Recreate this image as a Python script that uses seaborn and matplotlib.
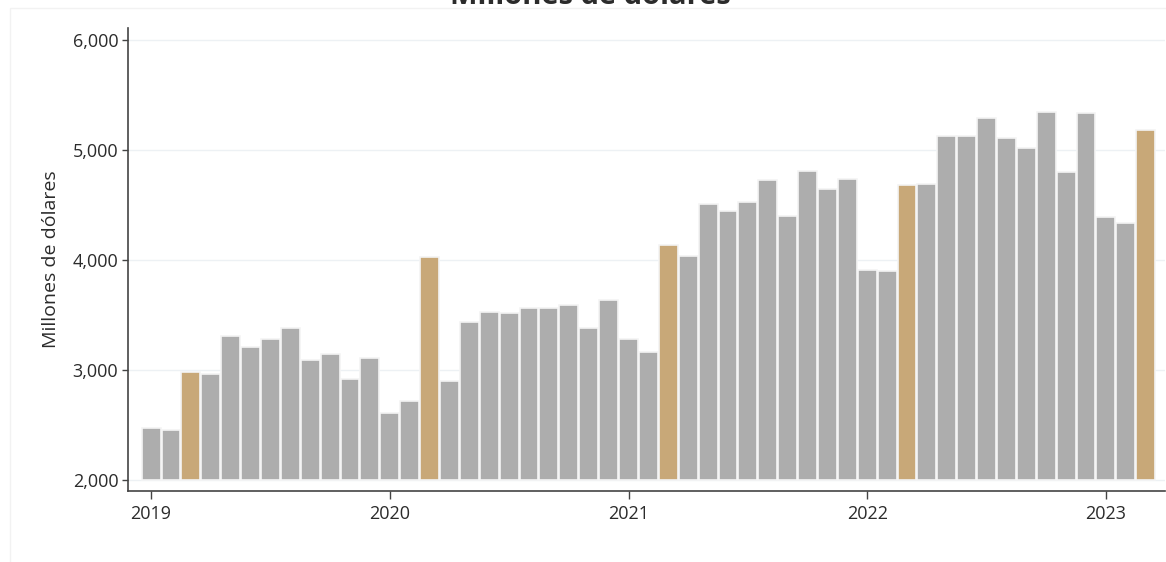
import pandas as pd
import seaborn as sns
import matplotlib.pyplot as plt
from matplotlib.patches import Rectangle

# monthly values, Jan 2019 - Mar 2023 (millones de dolares)
months = pd.date_range("2019-01-01", "2023-03-01", freq="MS")
values = [2470, 2455, 2980, 2960, 3310, 3210, 3280, 3380, 3090, 3145, 2920, 3110,
          2610, 2720, 4030, 2900, 3440, 3530, 3520, 3560, 3560, 3590, 3380, 3640,
          3280, 3160, 4140, 4040, 4510, 4450, 4530, 4730, 4400, 4810, 4650, 4740,
          3910, 3900, 4680, 4690, 5130, 5130, 5290, 5110, 5020, 5350, 4800, 5340,
          4390, 4340, 5180]
year_ticks = ["2019", "2020", "2021", "2022", "2023"]
yticks = [2000, 3000, 4000, 5000, 6000]
base = 2000

gray = "#adadad"
tan = "#c8a878"
ink = "#2b2b2b"

df = pd.DataFrame({"mes": months.strftime("%Y-%m"), "valor": values})
df["marzo"] = months.month == 3
df["alto"] = df["valor"] - base

sns.set_theme(style="white")
plt.rcParams["font.family"] = ["Open Sans", "DejaVu Sans"]

fig = plt.figure(figsize=(11.66, 5.62), dpi=100)
ax = fig.add_axes([0.1098, 0.1263, 0.889, 0.824])

sns.barplot(data=df, x="mes", y="alto", hue="marzo",
            palette={False: gray, True: tan}, legend=False, dodge=False,
            saturation=1, width=0.95, edgecolor="#f4f4f4", linewidth=1.2,
            bottom=base, ax=ax, zorder=2)

ax.set_ylim(1900, 6110)
ax.set_xlim(-1.16, 50.95)
ax.set_yticks(yticks)
ax.set_yticklabels([f"{v:,}" for v in yticks])
ax.set_xticks([0, 12, 24, 36, 48])
ax.set_xticklabels(year_ticks)
ax.yaxis.grid(True, color="#edf1f4", linewidth=1, zorder=0)
ax.set_axisbelow(True)

ax.set_xlabel("")
ax.set_ylabel("Millones de dólares", fontsize=14, color=ink, labelpad=9)
ax.tick_params(axis="y", left=True, length=4, width=1, color="#444444",
               labelsize=13, labelcolor=ink, pad=3)
ax.tick_params(axis="x", bottom=True, length=6, width=1, color="#444444",
               labelsize=13, labelcolor=ink, pad=4)

sns.despine(ax=ax)
for s in ["left", "bottom"]:
    ax.spines[s].set_color("#444444")
    ax.spines[s].set_linewidth(1.2)

# title cut off at the top edge, as in the original
fig.text(0.506, 1 - 3.5 / 562, "Millones de dólares", ha="center", va="baseline",
         fontsize=21, fontweight="bold", color=ink)

# faint outer frame
fig.patches.append(Rectangle((10 / 1166, -0.1), 1.2, 1.1 - 8 / 562,
                             transform=fig.transFigure, fill=False,
                             edgecolor="#f2f2f2", linewidth=1))

fig.savefig("out.png", dpi=100)
